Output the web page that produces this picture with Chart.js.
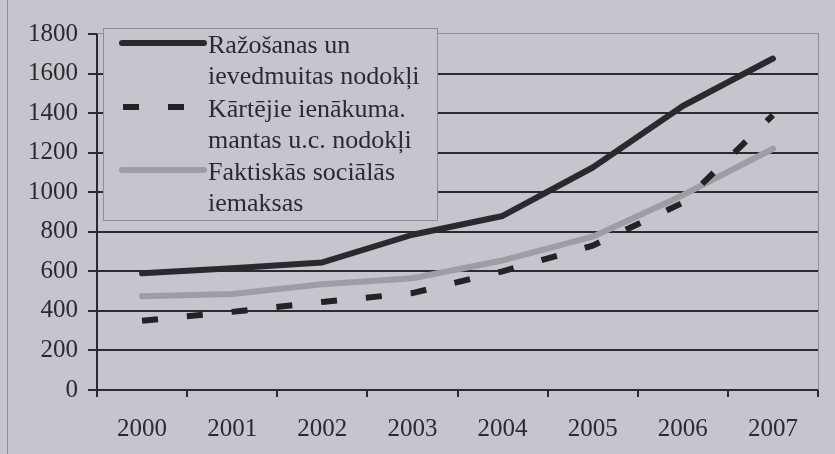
<!DOCTYPE html>
<html>
<head>
<meta charset="utf-8">
<script src="https://cdn.jsdelivr.net/npm/chart.js@4/dist/chart.umd.min.js"></script>
<style>
  html, body { margin: 0; padding: 0; background: #c4c5cd; }
  #wrap { width: 835px; height: 454px; }
</style>
</head>
<body>
<div id="wrap"><canvas id="myChart" width="835" height="454"></canvas></div>
<script>
// data
const years = ['2000', '2001', '2002', '2003', '2004', '2005', '2006', '2007'];
const razosanas = [590, 615, 645, 785, 880, 1125, 1436, 1676];
const kartejie = [350, 395, 445, 490, 600, 730, 947, 1390];
const faktiskas = [474, 485, 535, 565, 655, 775, 985, 1220];
const legendLines = [
  ['Ražošanas un', 'ievedmuitas nodokļi'],
  ['Kārtējie ienākuma.', 'mantas u.c. nodokļi'],
  ['Faktiskās sociālās', 'iemaksas']
];

const ink = '#2b2b2f';
const font = 'Liberation Serif, Times New Roman, serif';

// thin frame round the plot area, like the scan
const framePlugin = {
  id: 'frame',
  beforeDatasetsDraw(chart) {
    const { ctx, chartArea: a } = chart;
    ctx.save();
    ctx.strokeStyle = '#8d8e96';
    ctx.lineWidth = 1;
    ctx.beginPath();
    ctx.moveTo(a.left, a.top - 0.5);
    ctx.lineTo(a.right + 0.5, a.top - 0.5);
    ctx.lineTo(a.right + 0.5, a.bottom);
    ctx.stroke();
    ctx.beginPath();
    ctx.moveTo(7.5, 0);
    ctx.lineTo(7.5, 454);
    ctx.stroke();
    ctx.restore();
  }
};

// legend box with two-line labels
const legendPlugin = {
  id: 'boxLegend',
  afterDraw(chart) {
    const ctx = chart.ctx;
    const x0 = 103, y0 = 28, w = 334, h = 192;
    ctx.save();
    ctx.fillStyle = '#c4c5cd';
    ctx.fillRect(x0, y0, w, h);
    ctx.strokeStyle = '#8d8e96';
    ctx.lineWidth = 1;
    ctx.strokeRect(x0 + 0.5, y0 + 0.5, w, h);
    chart.data.datasets.forEach((ds, i) => {
      const y = [43, 107, 170][i];
      ctx.strokeStyle = ds.borderColor;
      ctx.lineWidth = ds.borderWidth;
      ctx.lineCap = ds.borderDash ? 'butt' : 'round';
      ctx.setLineDash(ds.borderDash ? [16, 29] : []);
      ctx.beginPath();
      ctx.moveTo(ds.borderDash ? 123 : 122, y);
      ctx.lineTo(ds.borderDash ? 184 : 204, y);
      ctx.stroke();
      ctx.setLineDash([]);
      ctx.fillStyle = ink;
      ctx.font = '26px ' + font;
      ctx.textBaseline = 'middle';
      legendLines[i].forEach((t, j) => ctx.fillText(t, 208, y + 3 + j * 31));
    });
    ctx.restore();
  }
};

const ctx = document.getElementById('myChart').getContext('2d');
const myChart = new Chart(ctx, {
  type: 'line',
  data: {
    labels: years,
    datasets: [
      { label: legendLines[0].join(' '), data: razosanas, borderColor: '#2a2a2e', borderWidth: 6,
        borderCapStyle: 'round', borderJoinStyle: 'round', pointRadius: 0, tension: 0 },
      { label: legendLines[1].join(' '), data: kartejie, borderColor: '#232326', borderWidth: 6,
        borderDash: [16, 29], borderCapStyle: 'butt', pointRadius: 0, tension: 0 },
      { label: legendLines[2].join(' '), data: faktiskas, borderColor: '#9d9ea4', borderWidth: 6,
        borderCapStyle: 'round', borderJoinStyle: 'round', pointRadius: 0, tension: 0 }
    ]
  },
  options: {
    responsive: false,
    animation: false,
    layout: { padding: { left: 0, right: 17, top: 34, bottom: 0 } },
    plugins: { legend: { display: false }, tooltip: { enabled: false } },
    scales: {
      x: {
        offset: true,
        grid: { offset: true, drawOnChartArea: false, drawTicks: true, tickLength: 7, color: ink, lineWidth: 2 },
        border: { color: ink, width: 2 },
        ticks: { color: ink, font: { family: font, size: 25 }, padding: 17, maxRotation: 0 },
        afterFit(s) { s.height = 64; }
      },
      y: {
        min: 0, max: 1800,
        ticks: { stepSize: 200, color: ink, font: { family: font, size: 25 }, padding: 10,
          callback: v => String(v) },
        grid: {
          color: c => c.tick && c.tick.value === 1800 ? 'rgba(0,0,0,0)' : ink,
          lineWidth: 2, tickLength: 9, tickColor: ink
        },
        border: { color: ink, width: 2 },
        afterFit(s) { s.width = 97; }
      }
    }
  },
  plugins: [framePlugin, legendPlugin]
});
</script>
</body>
</html>
